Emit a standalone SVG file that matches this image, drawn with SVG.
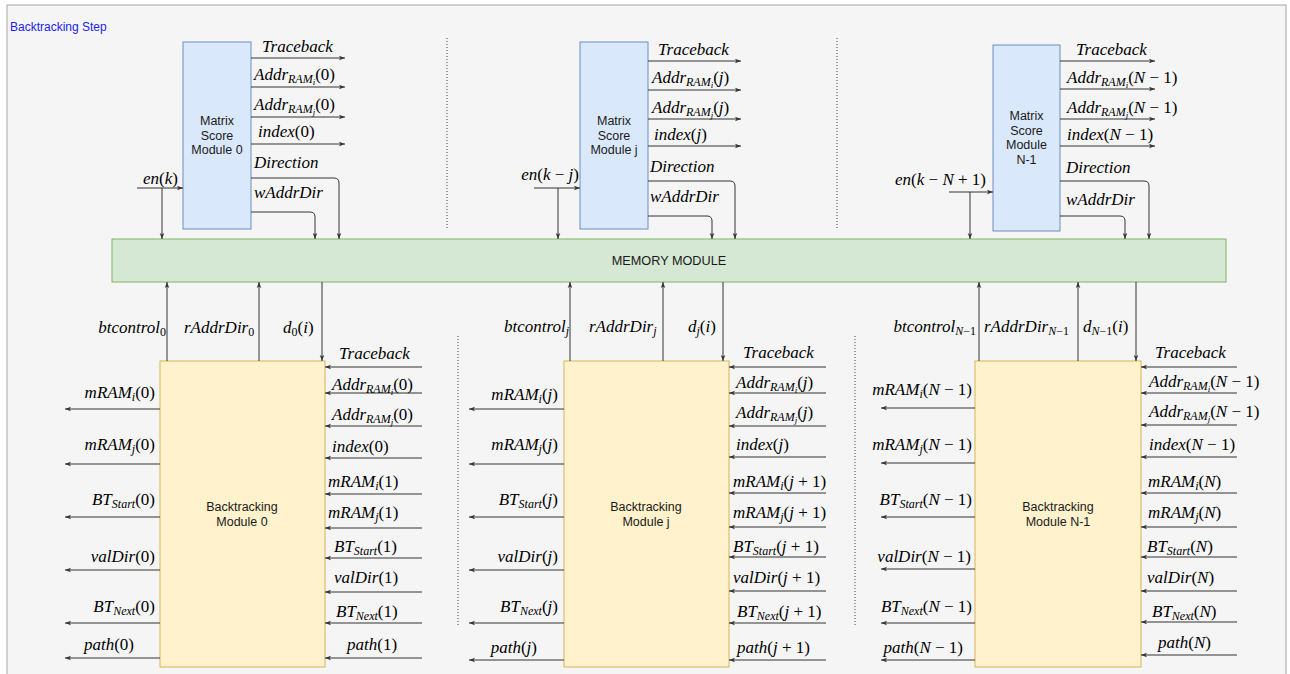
<svg xmlns="http://www.w3.org/2000/svg" width="1290" height="674" viewBox="0 0 1290 674">
<style>
.frame{fill:#f5f5f5;stroke:#a6a6a6;stroke-width:1}
.ms{fill:#dae8fc;stroke:#6c8ebf;stroke-width:1}
.mem{fill:#d5e8d4;stroke:#82b366;stroke-width:1}
.bt{fill:#fff2cc;stroke:#d6b656;stroke-width:1}
.box{font-family:"Liberation Sans",Arial,sans-serif;font-size:12.5px;fill:#1a1a1a;text-anchor:middle}
.title{font-family:"Liberation Sans",Arial,sans-serif;font-size:12px;fill:#2323ee}
.c{fill:none;stroke:#333;stroke-width:1;marker-end:url(#a)}
.sep{fill:none;stroke:#444;stroke-width:1;stroke-dasharray:1 2}
.m{font-family:"Liberation Serif","Times New Roman",serif;font-size:17px;font-style:italic;fill:#000}
.e{text-anchor:end}
.u{font-style:normal}
.s{font-size:12px}
.ss{font-size:9px}
</style>
<defs>
<marker id="a" viewBox="0 0 8 8" refX="8" refY="4" markerWidth="6" markerHeight="6" orient="auto" markerUnits="userSpaceOnUse">
<path d="M0,1 L8,4 L0,7 L2,4 z" fill="#333"/>
</marker>
</defs>
<rect class="frame" x="7" y="5" width="1279" height="700"/>
<text class="title" x="10" y="31">Backtracking Step</text>

<g id="separators">
<path class="sep" d="M447,38 V229 M837,38 V229 M458,336 V627 M855,336 V627"/>
</g>

<g id="matrix0"><rect class="ms" x="183" y="42" width="68" height="187"/>
<text class="box" x="217" y="125">Matrix</text><text class="box" x="217" y="140">Score</text><text class="box" x="217" y="154">Module 0</text></g>
<g id="matrixj"><rect class="ms" x="580" y="42" width="68" height="187"/>
<text class="box" x="614" y="125">Matrix</text><text class="box" x="614" y="140">Score</text><text class="box" x="614" y="154">Module j</text></g>
<g id="matrixN1"><rect class="ms" x="993" y="45" width="67" height="186"/>
<text class="box" x="1026.5" y="120">Matrix</text><text class="box" x="1026.5" y="135">Score</text><text class="box" x="1026.5" y="149">Module</text><text class="box" x="1026.5" y="164">N-1</text></g>

<g id="memory"><rect class="mem" x="112" y="239" width="1114" height="43"/>
<text class="box" x="669" y="265" style="font-size:12.7px">MEMORY MODULE</text></g>

<g id="bt0"><rect class="bt" x="160" y="361" width="165" height="306"/>
<text class="box" x="242" y="511">Backtracking</text><text class="box" x="242" y="526">Module 0</text></g>
<g id="btj"><rect class="bt" x="564" y="361" width="165" height="306"/>
<text class="box" x="646" y="511">Backtracking</text><text class="box" x="646" y="526">Module j</text></g>
<g id="btN1"><rect class="bt" x="975" y="361" width="166" height="306"/>
<text class="box" x="1058" y="511">Backtracking</text><text class="box" x="1058" y="526">Module N-1</text></g>

<g id="connectors">
<path class="c" d="M251,58 H345"/><path class="c" d="M251,87 H345"/><path class="c" d="M251,117 H345"/><path class="c" d="M251,144 H345"/>
<path class="c" d="M251,178 H334 Q339,178 339,183 V239"/>
<path class="c" d="M251,212 H310 Q315,212 315,217 V239"/>
<path class="c" d="M137,188 H183"/><path class="c" d="M162,188 V239"/>

<path class="c" d="M648,61 H741"/><path class="c" d="M648,90 H741"/><path class="c" d="M648,119 H741"/><path class="c" d="M648,146 H741"/>
<path class="c" d="M648,181 H730 Q735,181 735,186 V239"/>
<path class="c" d="M648,216 H707 Q712,216 712,221 V239"/>
<path class="c" d="M534,188 H580"/><path class="c" d="M558,188 V239"/>

<path class="c" d="M1060,61 H1155"/><path class="c" d="M1060,89 H1155"/><path class="c" d="M1060,119 H1155"/><path class="c" d="M1060,146 H1155"/>
<path class="c" d="M1060,181 H1144 Q1149,181 1149,186 V239"/>
<path class="c" d="M1060,216 H1120 Q1125,216 1125,221 V239"/>
<path class="c" d="M949,192 H993"/><path class="c" d="M970,192 V239"/>

<path class="c" d="M167,361 V282"/><path class="c" d="M259,361 V282"/><path class="c" d="M322,282 V361"/>
<path class="c" d="M570,361 V282"/><path class="c" d="M663,361 V282"/><path class="c" d="M723,282 V361"/>
<path class="c" d="M979,361 V282"/><path class="c" d="M1078,361 V282"/><path class="c" d="M1136,282 V361"/>

<path class="c" d="M422,367 H325"/><path class="c" d="M422,393 H325"/><path class="c" d="M422,426 H325"/><path class="c" d="M422,458 H325"/><path class="c" d="M422,494 H325"/>
<path class="c" d="M422,528 H325"/><path class="c" d="M422,558 H325"/><path class="c" d="M422,592 H325"/><path class="c" d="M422,623 H325"/><path class="c" d="M422,658 H325"/>
<path class="c" d="M160,409 H65"/><path class="c" d="M160,464 H65"/><path class="c" d="M160,517 H65"/><path class="c" d="M160,570 H65"/><path class="c" d="M160,623 H65"/><path class="c" d="M160,658 H65"/>

<path class="c" d="M826,367 H729"/><path class="c" d="M826,393 H729"/><path class="c" d="M826,426 H729"/><path class="c" d="M826,457 H729"/><path class="c" d="M826,493 H729"/>
<path class="c" d="M826,527 H729"/><path class="c" d="M826,557 H729"/><path class="c" d="M826,591 H729"/><path class="c" d="M826,623 H729"/><path class="c" d="M826,660 H729"/>
<path class="c" d="M564,409 H469"/><path class="c" d="M564,464 H469"/><path class="c" d="M564,517 H469"/><path class="c" d="M564,570 H469"/><path class="c" d="M564,623 H469"/><path class="c" d="M564,660 H469"/>

<path class="c" d="M1237,367 H1141"/><path class="c" d="M1237,393 H1141"/><path class="c" d="M1237,425 H1141"/><path class="c" d="M1237,457 H1141"/><path class="c" d="M1237,493 H1141"/>
<path class="c" d="M1237,527 H1141"/><path class="c" d="M1237,557 H1141"/><path class="c" d="M1237,591 H1141"/><path class="c" d="M1237,622 H1141"/><path class="c" d="M1237,655 H1141"/>
<path class="c" d="M975,408 H881"/><path class="c" d="M975,463 H881"/><path class="c" d="M975,517 H881"/><path class="c" d="M975,569 H881"/><path class="c" d="M975,623 H881"/><path class="c" d="M975,660 H881"/>
</g>

<g id="labels">
<text class="m" x="262" y="52">Traceback</text>
<text class="m" x="254" y="80">Addr<tspan class="s" dy="3">RAM<tspan class="ss" dy="2">i</tspan></tspan><tspan class="u" dy="-5">(0)</tspan></text>
<text class="m" x="254" y="110">Addr<tspan class="s" dy="3">RAM<tspan class="ss" dy="2">j</tspan></tspan><tspan class="u" dy="-5">(0)</tspan></text>
<text class="m" x="258" y="137">index<tspan class="u">(0)</tspan></text>
<text class="m" x="254" y="168">Direction</text>
<text class="m" x="254" y="198">wAddrDir</text>
<text class="m e" x="178" y="184">en<tspan class="u">(</tspan>k<tspan class="u">)</tspan></text>

<text class="m" x="658" y="55">Traceback</text>
<text class="m" x="652" y="83">Addr<tspan class="s" dy="3">RAM<tspan class="ss" dy="2">i</tspan></tspan><tspan class="u" dy="-5">(</tspan>j<tspan class="u">)</tspan></text>
<text class="m" x="652" y="113">Addr<tspan class="s" dy="3">RAM<tspan class="ss" dy="2">j</tspan></tspan><tspan class="u" dy="-5">(</tspan>j<tspan class="u">)</tspan></text>
<text class="m" x="654" y="140">index<tspan class="u">(</tspan>j<tspan class="u">)</tspan></text>
<text class="m" x="650" y="172">Direction</text>
<text class="m" x="650" y="202">wAddrDir</text>
<text class="m e" x="579" y="180">en<tspan class="u">(</tspan>k<tspan class="u"> − </tspan>j<tspan class="u">)</tspan></text>

<text class="m" x="1076" y="55">Traceback</text>
<text class="m" x="1067" y="83">Addr<tspan class="s" dy="3">RAM<tspan class="ss" dy="2">i</tspan></tspan><tspan class="u" dy="-5">(</tspan>N<tspan class="u"> − 1)</tspan></text>
<text class="m" x="1067" y="113">Addr<tspan class="s" dy="3">RAM<tspan class="ss" dy="2">j</tspan></tspan><tspan class="u" dy="-5">(</tspan>N<tspan class="u"> − 1)</tspan></text>
<text class="m" x="1067" y="140">index<tspan class="u">(</tspan>N<tspan class="u"> − 1)</tspan></text>
<text class="m" x="1066" y="173">Direction</text>
<text class="m" x="1066" y="205">wAddrDir</text>
<text class="m e" x="986" y="185">en<tspan class="u">(</tspan>k<tspan class="u"> − </tspan>N<tspan class="u"> + 1)</tspan></text>

<text class="m e" x="166" y="333">btcontrol<tspan class="s u" dy="3">0</tspan></text>
<text class="m" x="184" y="333">rAddrDir<tspan class="s u" dy="3">0</tspan></text>
<text class="m" x="283" y="333">d<tspan class="s u" dy="3">0</tspan><tspan class="u" dy="-3">(</tspan>i<tspan class="u">)</tspan></text>
<text class="m e" x="569" y="332">btcontrol<tspan class="s" dy="3">j</tspan></text>
<text class="m" x="589" y="332">rAddrDir<tspan class="s" dy="3">j</tspan></text>
<text class="m" x="688" y="332">d<tspan class="s" dy="3">j</tspan><tspan class="u" dy="-3">(</tspan>i<tspan class="u">)</tspan></text>
<text class="m e" x="976" y="332">btcontrol<tspan class="s" dy="3">N</tspan><tspan class="s u">−1</tspan></text>
<text class="m" x="984" y="332">rAddrDir<tspan class="s" dy="3">N</tspan><tspan class="s u">−1</tspan></text>
<text class="m" x="1083" y="332">d<tspan class="s" dy="3">N</tspan><tspan class="s u">−1</tspan><tspan class="u" dy="-3">(</tspan>i<tspan class="u">)</tspan></text>

<text class="m" x="339" y="359">Traceback</text>
<text class="m" x="332" y="390">Addr<tspan class="s" dy="3">RAM<tspan class="ss" dy="2">i</tspan></tspan><tspan class="u" dy="-5">(0)</tspan></text>
<text class="m" x="332" y="420">Addr<tspan class="s" dy="3">RAM<tspan class="ss" dy="2">j</tspan></tspan><tspan class="u" dy="-5">(0)</tspan></text>
<text class="m" x="332" y="452">index<tspan class="u">(0)</tspan></text>
<text class="m" x="328" y="487">mRAM<tspan class="s" dy="3">i</tspan><tspan class="u" dy="-3">(1)</tspan></text>
<text class="m" x="328" y="518">mRAM<tspan class="s" dy="3">j</tspan><tspan class="u" dy="-3">(1)</tspan></text>
<text class="m" x="334" y="552">BT<tspan class="s" dy="3">Start</tspan><tspan class="u" dy="-3">(1)</tspan></text>
<text class="m" x="334" y="583">valDir<tspan class="u">(1)</tspan></text>
<text class="m" x="336" y="617">BT<tspan class="s" dy="3">Next</tspan><tspan class="u" dy="-3">(1)</tspan></text>
<text class="m" x="347" y="650">path<tspan class="u">(1)</tspan></text>

<text class="m e" x="155" y="398">mRAM<tspan class="s" dy="3">i</tspan><tspan class="u" dy="-3">(0)</tspan></text>
<text class="m e" x="155" y="450">mRAM<tspan class="s" dy="3">j</tspan><tspan class="u" dy="-3">(0)</tspan></text>
<text class="m e" x="155" y="505">BT<tspan class="s" dy="3">Start</tspan><tspan class="u" dy="-3">(0)</tspan></text>
<text class="m e" x="155" y="562">valDir<tspan class="u">(0)</tspan></text>
<text class="m e" x="155" y="612">BT<tspan class="s" dy="3">Next</tspan><tspan class="u" dy="-3">(0)</tspan></text>
<text class="m e" x="134" y="650">path<tspan class="u">(0)</tspan></text>

<text class="m" x="743" y="358">Traceback</text>
<text class="m" x="736" y="388">Addr<tspan class="s" dy="3">RAM<tspan class="ss" dy="2">i</tspan></tspan><tspan class="u" dy="-5">(</tspan>j<tspan class="u">)</tspan></text>
<text class="m" x="736" y="418">Addr<tspan class="s" dy="3">RAM<tspan class="ss" dy="2">j</tspan></tspan><tspan class="u" dy="-5">(</tspan>j<tspan class="u">)</tspan></text>
<text class="m" x="736" y="450">index<tspan class="u">(</tspan>j<tspan class="u">)</tspan></text>
<text class="m" x="733" y="487">mRAM<tspan class="s" dy="3">i</tspan><tspan class="u" dy="-3">(</tspan>j<tspan class="u"> + 1)</tspan></text>
<text class="m" x="733" y="518">mRAM<tspan class="s" dy="3">j</tspan><tspan class="u" dy="-3">(</tspan>j<tspan class="u"> + 1)</tspan></text>
<text class="m" x="733" y="552">BT<tspan class="s" dy="3">Start</tspan><tspan class="u" dy="-3">(</tspan>j<tspan class="u"> + 1)</tspan></text>
<text class="m" x="733" y="583">valDir<tspan class="u">(</tspan>j<tspan class="u"> + 1)</tspan></text>
<text class="m" x="737" y="617">BT<tspan class="s" dy="3">Next</tspan><tspan class="u" dy="-3">(</tspan>j<tspan class="u"> + 1)</tspan></text>
<text class="m" x="737" y="653">path<tspan class="u">(</tspan>j<tspan class="u"> + 1)</tspan></text>

<text class="m e" x="558" y="400">mRAM<tspan class="s" dy="3">i</tspan><tspan class="u" dy="-3">(</tspan>j<tspan class="u">)</tspan></text>
<text class="m e" x="558" y="450">mRAM<tspan class="s" dy="3">j</tspan><tspan class="u" dy="-3">(</tspan>j<tspan class="u">)</tspan></text>
<text class="m e" x="558" y="505">BT<tspan class="s" dy="3">Start</tspan><tspan class="u" dy="-3">(</tspan>j<tspan class="u">)</tspan></text>
<text class="m e" x="558" y="562">valDir<tspan class="u">(</tspan>j<tspan class="u">)</tspan></text>
<text class="m e" x="558" y="612">BT<tspan class="s" dy="3">Next</tspan><tspan class="u" dy="-3">(</tspan>j<tspan class="u">)</tspan></text>
<text class="m e" x="537" y="653">path<tspan class="u">(</tspan>j<tspan class="u">)</tspan></text>

<text class="m" x="1155" y="358">Traceback</text>
<text class="m" x="1149" y="387">Addr<tspan class="s" dy="3">RAM<tspan class="ss" dy="2">i</tspan></tspan><tspan class="u" dy="-5">(</tspan>N<tspan class="u"> − 1)</tspan></text>
<text class="m" x="1149" y="417">Addr<tspan class="s" dy="3">RAM<tspan class="ss" dy="2">j</tspan></tspan><tspan class="u" dy="-5">(</tspan>N<tspan class="u"> − 1)</tspan></text>
<text class="m" x="1149" y="450">index<tspan class="u">(</tspan>N<tspan class="u"> − 1)</tspan></text>
<text class="m" x="1148" y="487">mRAM<tspan class="s" dy="3">i</tspan><tspan class="u" dy="-3">(</tspan>N<tspan class="u">)</tspan></text>
<text class="m" x="1148" y="518">mRAM<tspan class="s" dy="3">j</tspan><tspan class="u" dy="-3">(</tspan>N<tspan class="u">)</tspan></text>
<text class="m" x="1147" y="552">BT<tspan class="s" dy="3">Start</tspan><tspan class="u" dy="-3">(</tspan>N<tspan class="u">)</tspan></text>
<text class="m" x="1147" y="583">valDir<tspan class="u">(</tspan>N<tspan class="u">)</tspan></text>
<text class="m" x="1152" y="617">BT<tspan class="s" dy="3">Next</tspan><tspan class="u" dy="-3">(</tspan>N<tspan class="u">)</tspan></text>
<text class="m" x="1158" y="648">path<tspan class="u">(</tspan>N<tspan class="u">)</tspan></text>

<text class="m e" x="972" y="395">mRAM<tspan class="s" dy="3">i</tspan><tspan class="u" dy="-3">(</tspan>N<tspan class="u"> − 1)</tspan></text>
<text class="m e" x="972" y="450">mRAM<tspan class="s" dy="3">j</tspan><tspan class="u" dy="-3">(</tspan>N<tspan class="u"> − 1)</tspan></text>
<text class="m e" x="972" y="505">BT<tspan class="s" dy="3">Start</tspan><tspan class="u" dy="-3">(</tspan>N<tspan class="u"> − 1)</tspan></text>
<text class="m e" x="971" y="562">valDir<tspan class="u">(</tspan>N<tspan class="u"> − 1)</tspan></text>
<text class="m e" x="972" y="612">BT<tspan class="s" dy="3">Next</tspan><tspan class="u" dy="-3">(</tspan>N<tspan class="u"> − 1)</tspan></text>
<text class="m e" x="963" y="653">path<tspan class="u">(</tspan>N<tspan class="u"> − 1)</tspan></text>
</g>
</svg>
